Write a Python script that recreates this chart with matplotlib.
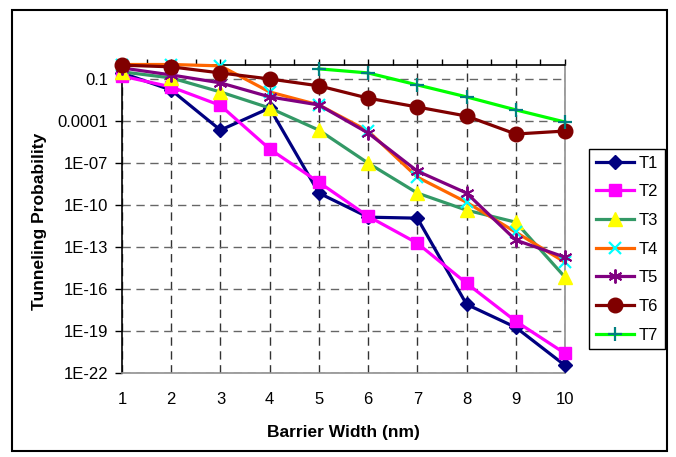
import numpy as np
import matplotlib
matplotlib.use("Agg")
import matplotlib.pyplot as plt
from matplotlib.patches import Rectangle
from matplotlib.ticker import FixedLocator, FixedFormatter, MultipleLocator

plt.rcParams['font.family'] = ['Liberation Sans', 'DejaVu Sans']

# Barrier widths (nm)
widths = [1, 2, 3, 4, 5, 6, 7, 8, 9, 10]

# Tunneling probability for each structure
t1 = [0.25, 1.5e-2, 2.1e-5, 7.9e-4, 6.8e-10, 1.3e-11, 1.1e-11, 7.9e-18, 1.8e-19, 3.5e-22]
t2 = [0.15, 2.5e-2, 1.2e-3, 9.4e-7, 4.0e-9, 1.5e-11, 1.8e-13, 2.5e-16, 4.9e-19, 2.5e-21]
t3 = [0.3, 0.11, 1.1e-2, 7.9e-4, 2.1e-5, 9.3e-8, 6.8e-10, 4.1e-11, 5.7e-12, 6.8e-16]
t4 = [1.0, 1.0, 0.8, 1.1e-2, 1.3e-3, 1.8e-5, 9.3e-9, 1.5e-10, 1.1e-12, 7.9e-15]
t5 = [0.57, 0.18, 4.9e-2, 4.9e-3, 1.3e-3, 1.3e-5, 2.5e-8, 6.8e-10, 3.0e-13, 1.8e-14]
t6 = [0.9, 0.68, 0.25, 9.3e-2, 3.0e-2, 4.0e-3, 9.3e-4, 2.1e-4, 1.1e-5, 1.8e-5]
t7 = [np.nan, np.nan, np.nan, np.nan, 0.49, 0.25, 3.5e-2, 4.9e-3, 5.8e-4, 7.9e-5]

series_names = ['T1', 'T2', 'T3', 'T4', 'T5', 'T6', 'T7']

y_ticks = [1e-1, 1e-4, 1e-7, 1e-10, 1e-13, 1e-16, 1e-19, 1e-22]
y_tick_labels = ['0.1', '0.0001', '1E-07', '1E-10', '1E-13', '1E-16', '1E-19', '1E-22']
x_tick_labels = ['1', '2', '3', '4', '5', '6', '7', '8', '9', '10']

W, H = 676, 457
fig = plt.figure(figsize=(W / 100, H / 100), dpi=100)
ax = fig.add_axes([122 / W, 1 - 373 / H, (565 - 122) / W, (373 - 64.5) / H])

styles = [
    dict(color='#000080', marker='D', ms=6.8, mfc='#000080', mec='#000080'),
    dict(color='#FF00FF', marker='s', ms=9.0, mfc='#FF00FF', mec='#FF00FF'),
    dict(color='#339966', marker='^', ms=9.4, mfc='#FFFF00', mec='#FFFF00'),
    dict(color='#FF6600', marker='x', ms=8.5, mfc='#00FFFF', mec='#00FFFF', mew=1.6),
    dict(color='#800080', marker=(6, 2, 0), ms=10, mfc='#800080', mec='#800080', mew=1.4),
    dict(color='#800000', marker='o', ms=10.5, mfc='#800000', mec='#800000'),
    dict(color='#00FF00', marker='+', ms=10, mfc='#008080', mec='#008080', mew=1.6),
]

for i, (vals, name, st) in enumerate(zip([t1, t2, t3, t4, t5, t6, t7], series_names, styles)):
    ax.plot(widths, vals, lw=2.3, label=name, clip_on=False, zorder=3 + i * 0.1, **st)

ax.set_yscale('log')
ax.set_ylim(1e-22, 1)
ax.set_xlim(1, 10)

ax.yaxis.set_major_locator(FixedLocator(y_ticks))
ax.yaxis.set_major_formatter(FixedFormatter(y_tick_labels))
ax.yaxis.set_minor_locator(FixedLocator([]))
ax.xaxis.set_major_locator(FixedLocator(widths))
ax.xaxis.set_major_formatter(FixedFormatter(x_tick_labels))
ax.xaxis.set_minor_locator(MultipleLocator(0.5))

ax.tick_params(axis='y', which='major', direction='out', length=5, width=1,
               color='black', labelsize=12, pad=5)
ax.tick_params(axis='x', which='both', bottom=False, top=True, labelbottom=True,
               labeltop=False, direction='out', length=4, width=1, color='black',
               labelsize=12, pad=10)

ax.set_axisbelow(True)
ax.grid(True, axis='x', which='major', linestyle=(0, (6, 4)), color='#333333', lw=1)
ax.grid(True, axis='y', which='major', linestyle=(0, (6, 4)), color='#666666', lw=1)

for side in ['left', 'top']:
    ax.spines[side].set_color('black')
    ax.spines[side].set_linewidth(1.2)
for side in ['right', 'bottom']:
    ax.spines[side].set_color('#909090')
    ax.spines[side].set_linewidth(1.2)

fig.text(343.5 / W, 1 - 433 / H, 'Barrier Width (nm)', ha='center', va='center',
         fontsize=12.5, fontweight='bold')
fig.text(40 / W, 1 - 221 / H, 'Tunneling Probability', ha='center', va='center',
         rotation=90, fontsize=12.5, fontweight='bold')

leg = ax.legend(loc='upper left', bbox_to_anchor=(589 / W, 1 - 149 / H),
                bbox_transform=fig.transFigure, borderaxespad=0, fontsize=12,
                frameon=True, fancybox=False, shadow=False, handlelength=2.3,
                handletextpad=0.3, labelspacing=0.82, borderpad=0.4)
leg.get_frame().set_edgecolor('black')
leg.get_frame().set_linewidth(1)
leg.get_frame().set_alpha(1)

fig.patches.append(Rectangle((12 / W, 1 - 451 / H), (667 - 12) / W, (451 - 10) / H,
                             transform=fig.transFigure, fill=False, lw=1.5,
                             edgecolor='black'))

fig.savefig('out.png', dpi=100)
